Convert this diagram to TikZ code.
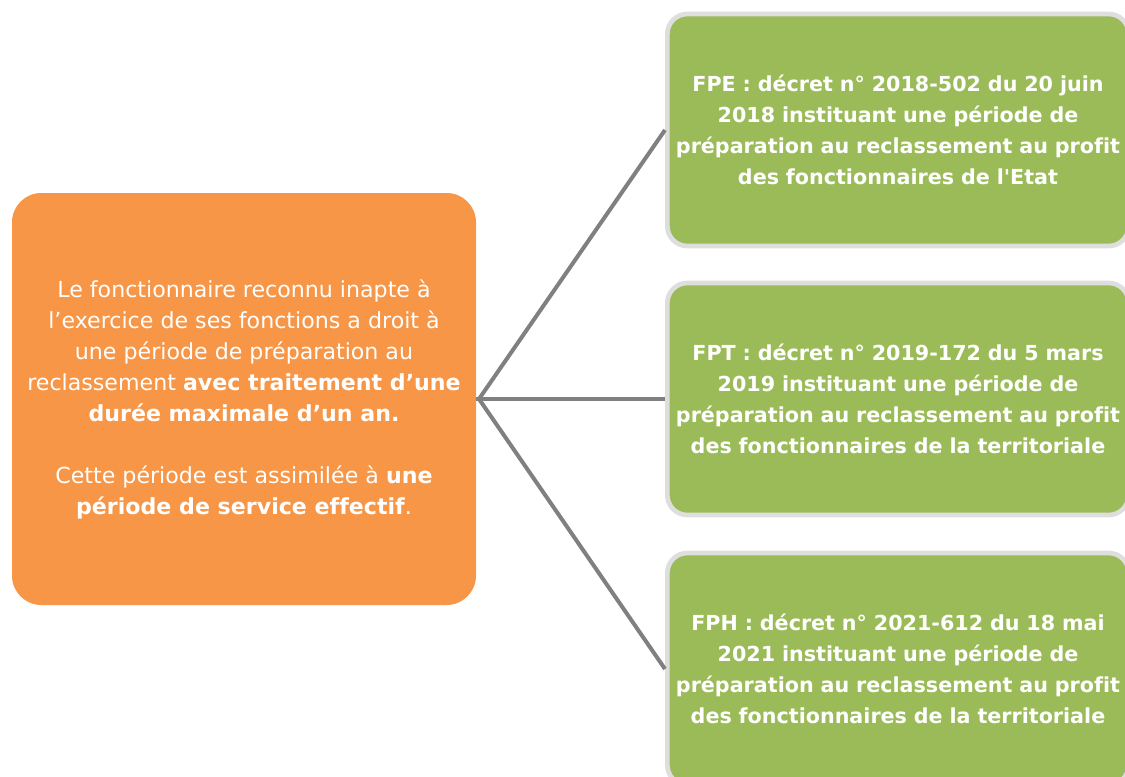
\documentclass[tikz,border=0pt]{standalone}
\usepackage{fontspec}
\setmainfont{DejaVu Sans}[Ligatures={NoCommon}]
\newfontfamily\rawfont{DejaVu Sans}[Ligatures=ResetAll]
\definecolor{orangebox}{HTML}{F79646}
\definecolor{greenbox}{HTML}{9BBB59}
\definecolor{greenrim}{HTML}{DEDEDE}
\definecolor{linkgray}{HTML}{808080}
\tikzset{
  orangenode/.style={rectangle, rounded corners=22pt, fill=orangebox, text=white,
    minimum width=348pt, minimum height=309pt, align=center, inner sep=0pt,
    font=\fontsize{16.6}{23.25}\selectfont},
  greennode/.style={rectangle, rounded corners=15pt, fill=greenbox, draw=greenrim,
    line width=3.5pt, text=white, minimum width=346pt, minimum height=174pt,
    text width=334pt, align=center, inner sep=0pt,
    font=\bfseries\fontsize{15.5}{23.25}\selectfont},
  link/.style={draw=linkgray, line width=3pt}
}
\begin{document}
\begin{tikzpicture}[x=0.75pt,y=-0.75pt]
\useasboundingbox (0,0) rectangle (1125,776);
\clip (0,0) rectangle (1125,776);
\fill[white] (0,0) rectangle (1125,776);
\coordinate (hub) at (479,399);
\node[orangenode] (o) at (244,399) {Le fonctionnaire reconnu inapte à\\
l’exercice de ses fonctions a droit à\\
une période de préparation au\\
reclassement \textbf{avec traitement d’une}\\
\textbf{durée maximale d’un an.}\\[23.25pt]
Cette période est assimilée à \textbf{une}\\
\textbf{période de service effectif}.};
\node[greennode] (g1) at (898,130) {FPE : décret n° 2018-502 du 20 juin\\
2018 instituant une période de\\
préparation au reclassement au profit\\
des fonctionnaires de l{\rawfont\bfseries '}Etat};
\node[greennode] (g2) at (898,399) {FPT : décret n° 2019-172 du 5 mars\\
2019 instituant une période de\\
préparation au reclassement au profit\\
des fonctionnaires de la territoriale};
\node[greennode] (g3) at (898,669) {FPH : décret n° 2021-612 du 18 mai\\
2021 instituant une période de\\
préparation au reclassement au profit\\
des fonctionnaires de la territoriale};
\draw[link] (o.east) -- (hub);
\draw[link] (hub) -- (g1.west);
\draw[link] (hub) -- (g2.west);
\draw[link] (hub) -- (g3.west);
\end{tikzpicture}
\end{document}
